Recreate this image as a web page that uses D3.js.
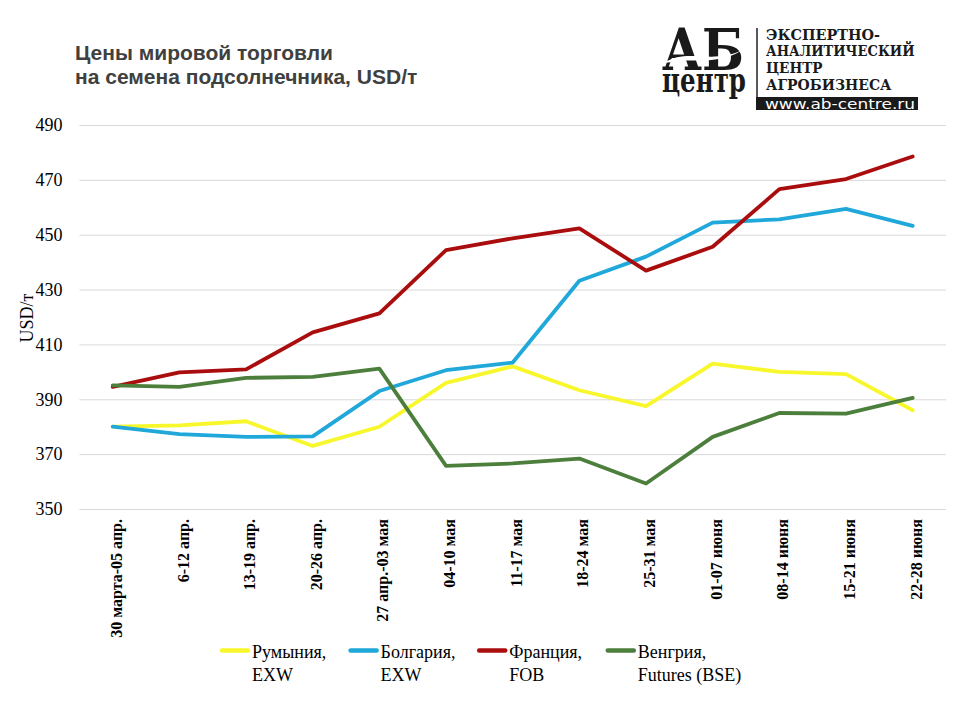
<!DOCTYPE html>
<html>
<head>
<meta charset="utf-8">
<script src="https://cdn.jsdelivr.net/npm/d3@7.9.0/dist/d3.min.js"></script>
<style>
  body { margin: 0; background: #fff; }
  svg { display: block; }
</style>
</head>
<body>
<svg id="chart" width="960" height="720"></svg>
<script>
// weeks on the x axis
const weeks = ['30 марта-05 апр.', '6-12 апр.', '13-19 апр.', '20-26 апр.', '27 апр.-03 мая',
  '04-10 мая', '11-17 мая', '18-24 мая', '25-31 мая', '01-07 июня', '08-14 июня', '15-21 июня', '22-28 июня'];

const romania  = [380, 380.5, 382, 373, 380, 396, 402, 393.3, 387.5, 403, 400, 399.2, 386];
const bulgaria = [380, 377.3, 376.3, 376.5, 393, 400.6, 403.4, 433.2, 442, 454.4, 455.6, 459.4, 453.2];
const france   = [394.5, 399.8, 400.9, 414.4, 421.3, 444.4, 448.7, 452.3, 436.9, 445.6, 466.6, 470.3, 478.5];
const hungary  = [395.1, 394.5, 397.8, 398.2, 401.2, 365.7, 366.6, 368.4, 359.3, 376.3, 385, 384.8, 390.5];

const yTicks = [350, 370, 390, 410, 430, 450, 470, 490];

const series = [
  { name: ['Румыния,', 'EXW'], values: romania, color: '#f7f72b' },
  { name: ['Болгария,', 'EXW'], values: bulgaria, color: '#1fa8d9' },
  { name: ['Франция,', 'FOB'], values: france, color: '#aa0d0d' },
  { name: ['Венгрия,', 'Futures (BSE)'], values: hungary, color: '#4d7f3c' }
];

const svg = d3.select('#chart');
const plotLeft = 79.4, plotRight = 946, plotTop = 125, plotBottom = 509;

let x = d3.scalePoint().domain(weeks).range([plotLeft, plotRight]).padding(0.5);
let y = d3.scaleLinear().domain([350, 490]).range([plotBottom, plotTop]);

// title
svg.append('text')
  .attr('x', 75).attr('y', 60)
  .attr('font-family', 'Liberation Sans, Arial, sans-serif')
  .attr('font-weight', 'bold').attr('font-size', 21).attr('fill', '#404040')
  .selectAll('tspan')
  .data(['Цены мировой торговли', 'на семена подсолнечника, USD/т'])
  .enter().append('tspan')
  .attr('x', 75).attr('dy', (d, i) => i ? 24 : 0)
  .text(d => d);

// grid + y labels
let yAxis = svg.append('g')
  .attr('transform', `translate(${plotLeft},0)`)
  .call(d3.axisLeft(y).tickValues(yTicks).tickSize(-(plotRight - plotLeft)).tickPadding(17).tickFormat(d3.format('d')));
yAxis.select('.domain').remove();
yAxis.selectAll('.tick line').attr('stroke', '#d9d9d9').attr('stroke-width', 1);
yAxis.selectAll('.tick text')
  .attr('font-family', 'Liberation Serif, Times New Roman, serif')
  .attr('font-size', 18).attr('fill', '#000');

svg.append('text')
  .attr('transform', 'translate(33,318) rotate(-90)')
  .attr('text-anchor', 'middle')
  .attr('font-family', 'Liberation Serif, Times New Roman, serif')
  .attr('font-size', 18).attr('fill', '#000')
  .text('USD/т');

// x labels, rotated
let xAxis = svg.append('g')
  .attr('transform', `translate(0,${plotBottom})`)
  .call(d3.axisBottom(x).tickSize(0).tickPadding(0));
xAxis.select('.domain').remove();
xAxis.selectAll('.tick text')
  .attr('font-family', 'Liberation Serif, Times New Roman, serif')
  .attr('font-weight', 'bold').attr('font-size', 16).attr('fill', '#000')
  .attr('text-anchor', 'end')
  .attr('transform', 'translate(3,10) rotate(-90)')
  .attr('x', 0).attr('y', 0).attr('dy', '0.35em');

// lines
let line = d3.line()
  .x((d, i) => x(weeks[i]))
  .y(d => y(d));

svg.append('g').selectAll('path')
  .data(series)
  .enter()
  .append('path')
  .attr('d', d => line(d.values))
  .attr('fill', 'none')
  .attr('stroke', d => d.color)
  .attr('stroke-width', 3.8)
  .attr('stroke-linejoin', 'round')
  .attr('stroke-linecap', 'round');

// legend
let legend = svg.append('g').selectAll('g')
  .data(series)
  .enter()
  .append('g')
  .attr('transform', (d, i) => `translate(${222 + i * 128.6},650.5)`);

legend.append('line')
  .attr('x1', 0).attr('x2', 26)
  .attr('stroke', d => d.color).attr('stroke-width', 4.5).attr('stroke-linecap', 'round');

legend.append('text')
  .attr('font-family', 'Liberation Serif, Times New Roman, serif')
  .attr('font-size', 18).attr('fill', '#000')
  .selectAll('tspan')
  .data(d => d.name)
  .enter().append('tspan')
  .attr('x', 30).attr('y', (d, i) => 7.5 + i * 23)
  .text(d => d);

// logo
let logo = svg.append('g');
logo.append('text')
  .attr('x', 662).attr('y', 70)
  .attr('font-family', 'DejaVu Serif, serif').attr('font-weight', 'bold')
  .attr('font-size', 58).attr('fill', '#1a1a1a')
  .attr('textLength', 82).attr('lengthAdjust', 'spacingAndGlyphs')
  .text('АБ');
logo.append('path')
  .attr('d', 'M664,63 C688,47 712,66 744,49 C722,64 700,59 680,61 Z')
  .attr('fill', '#fff');
logo.append('text')
  .attr('x', 662).attr('y', 92)
  .attr('font-family', 'DejaVu Serif, serif').attr('font-weight', 'bold')
  .attr('font-size', 34).attr('fill', '#1a1a1a')
  .attr('textLength', 84).attr('lengthAdjust', 'spacingAndGlyphs')
  .text('центр');
logo.append('line')
  .attr('x1', 757).attr('x2', 757).attr('y1', 28).attr('y2', 97)
  .attr('stroke', '#222').attr('stroke-width', 1.5);
logo.append('g').selectAll('text')
  .data(['ЭКСПЕРТНО-', 'АНАЛИТИЧЕСКИЙ', 'ЦЕНТР', 'АГРОБИЗНЕСА'])
  .enter().append('text')
  .attr('x', 766).attr('y', (d, i) => [39.5, 55.5, 72.5, 89.5][i])
  .attr('font-family', 'DejaVu Serif, serif').attr('font-weight', 'bold')
  .attr('font-size', 15.5).attr('fill', '#1a1a1a')
  .attr('textLength', d => d.length * 11.5 - 1).attr('lengthAdjust', 'spacingAndGlyphs')
  .text(d => d);
logo.append('rect')
  .attr('x', 756).attr('y', 97).attr('width', 162).attr('height', 13)
  .attr('fill', '#1a1a1a');
logo.append('text')
  .attr('x', 765).attr('y', 109)
  .attr('font-family', 'DejaVu Sans, sans-serif')
  .attr('font-size', 14).attr('fill', '#fff')
  .attr('textLength', 150).attr('lengthAdjust', 'spacingAndGlyphs')
  .text('www.ab-centre.ru');
</script>
</body>
</html>
